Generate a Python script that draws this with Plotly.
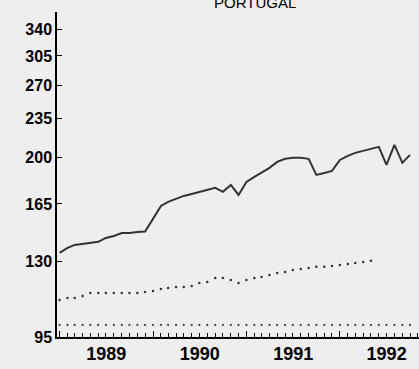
import math
import pandas as pd
import plotly.graph_objects as go

# Monthly index, Portugal (log scale)
solid_start = "1989-01-01"
solid_values = [134.7, 137.5, 139.2, 139.8, 140.4, 141.0, 143.3, 144.5, 146.3, 146.3, 146.9, 147.2,
                155.1, 163.7, 166.4, 168.5, 170.6, 172.0, 173.5, 174.9, 176.4, 173.5, 178.6, 171.3,
                180.8, 184.6, 187.7, 191.7, 196.5, 199.0, 199.8, 199.8, 199.0, 186.2, 187.7, 189.3,
                198.1, 201.5, 204.0, 205.7, 207.4, 209.1, 194.1, 210.9, 195.7, 202.3]

middle_start = "1989-01-01"
middle_values = [110.8, 111.7, 111.7, 112.6, 114.0, 114.0, 114.0, 114.0, 114.0, 114.0, 114.0, 114.5,
                 115.0, 116.0, 116.4, 116.9, 116.9, 117.4, 118.9, 119.4, 121.4, 121.4, 120.4, 118.9,
                 120.4, 121.4, 121.9, 122.9, 123.9, 124.4, 125.5, 126.0, 126.5, 127.1, 127.1, 127.6,
                 128.1, 128.6, 129.2, 129.7, 130.3]

bottom_start = "1989-01-01"
bottom_values = [99.9, 99.9, 99.9, 99.9, 99.9, 99.9, 99.9, 99.9, 99.9, 99.9, 99.9, 99.9,
                 99.9, 99.9, 99.9, 99.9, 99.9, 99.9, 99.9, 99.9, 99.9, 99.9, 99.9, 99.9,
                 99.9, 99.9, 99.9, 99.9, 99.9, 99.9, 99.9, 99.9, 99.9, 99.9, 99.9, 99.9,
                 99.9, 99.9, 99.9, 99.9, 99.9, 99.9, 99.9, 99.9, 99.9, 99.9]

y_ticks = [95, 130, 165, 200, 235, 270, 305, 340]
title_text = "PORTUGAL"

solid_x = pd.date_range(solid_start, periods=len(solid_values), freq="MS")
middle_x = pd.date_range(middle_start, periods=len(middle_values), freq="MS")
bottom_x = pd.date_range(bottom_start, periods=len(bottom_values), freq="MS")

W, H = 419, 369
ML, MR, MT, MB = 57, 0, 12, 32
PW, PH = W - ML - MR, H - MT - MB

fig = go.Figure()
fig.add_trace(go.Scatter(x=solid_x, y=solid_values, mode="lines",
                         line=dict(color="#333333", width=2)))
fig.add_trace(go.Scatter(x=middle_x, y=middle_values, mode="markers",
                         marker=dict(color="#333333", size=2.5)))
fig.add_trace(go.Scatter(x=bottom_x, y=bottom_values, mode="markers",
                         marker=dict(color="#444444", size=2.2)))

fig.add_annotation(text=title_text, xref="paper", yref="paper",
                   x=(255 - ML) / PW, y=(H - MB - 2) / PH,
                   xanchor="center", yanchor="middle", showarrow=False,
                   font=dict(size=15, color="black"))

fig.update_layout(
    width=W, height=H,
    margin=dict(l=ML, r=MR, t=MT, b=MB),
    paper_bgcolor="#eeeeee", plot_bgcolor="#eeeeee",
    showlegend=False,
    font=dict(family="Liberation Sans, Arial, sans-serif", color="black"),
)

fig.update_yaxes(
    type="log", range=[math.log10(95), math.log10(366)],
    tickmode="array", tickvals=y_ticks, ticktext=[str(v) for v in y_ticks],
    ticks="inside", ticklen=5, tickwidth=1.2, tickcolor="#000000",
    showline=True, linecolor="#000000", linewidth=1.5,
    showgrid=False, zeroline=False,
    tickfont=dict(size=16, weight="bold"),
)

fig.update_xaxes(
    type="date", range=["1988-12-22", "1992-11-05"],
    tick0="1989-01-01", dtick="M12", tickformat="%Y", ticklabelmode="period",
    ticks="inside", ticklen=6, tickwidth=1.2, tickcolor="#000000",
    minor=dict(dtick="M1", ticks="inside", ticklen=4, tickwidth=1, tickcolor="#000000"),
    showline=True, linecolor="#000000", linewidth=1.5,
    showgrid=False, zeroline=False,
    tickfont=dict(size=18, weight="bold"),
)

fig.write_html("out.html")
